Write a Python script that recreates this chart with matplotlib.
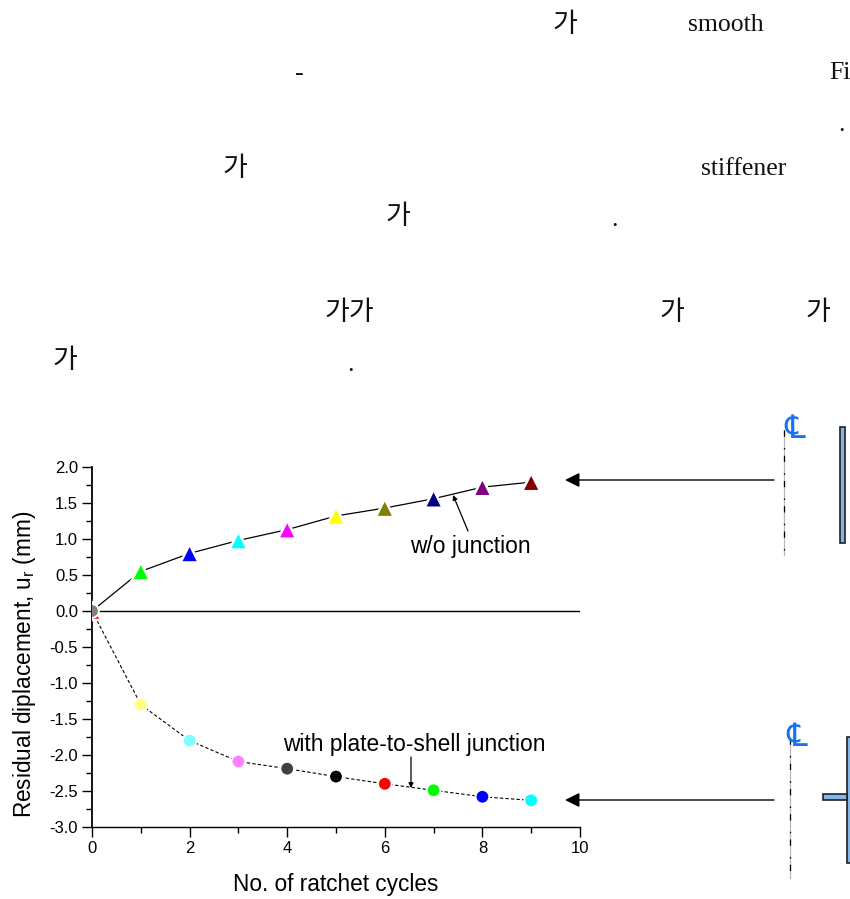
import matplotlib
matplotlib.use("Agg")
import matplotlib.pyplot as plt
from matplotlib.patches import Rectangle

plt.rcParams['font.family'] = ['Liberation Sans', 'DejaVu Sans']

W, H = 850, 899

# ---- data ----
cycles = [0, 1, 2, 3, 4, 5, 6, 7, 8, 9]
wo_junction = [0.0, 0.55, 0.80, 0.98, 1.13, 1.32, 1.43, 1.56, 1.72, 1.79]
with_junction = [0.0, -1.30, -1.80, -2.09, -2.19, -2.30, -2.40, -2.49, -2.58, -2.63]

tri_colors = ['#ff0000', '#00ff00', '#0000ff', '#00ffff', '#ff00ff',
              '#ffff00', '#808000', '#000080', '#800080', '#800000']
dot_colors = ['#808080', '#ffff80', '#80ffff', '#ff80ff', '#404040',
              '#000000', '#ff0000', '#00ff00', '#0000ff', '#00ffff']

x_ticks = [0, 2, 4, 6, 8, 10]
x_minor = [1, 3, 5, 7, 9]
y_ticks = [2.0, 1.5, 1.0, 0.5, 0.0, -0.5, -1.0, -1.5, -2.0, -2.5, -3.0]
y_minor = [1.75, 1.25, 0.75, 0.25, -0.25, -0.75, -1.25, -1.75, -2.25, -2.75]

# text fragments of the page above the chart (x, y, text)
hangul = [(565, 25, '가'), (235, 169, '가'), (398, 216, '가'), (349, 312, '가가'),
          (672, 312, '가'), (818, 312, '가'), (65, 360, '가')]
latin = [(726, 25, 'smooth'), (299, 74, '-'), (840, 73, 'Fi'), (842, 125, '.'),
         (744, 169, 'stiffener'), (615, 220, '.'), (351, 365, '.')]

fig = plt.figure(figsize=(W / 100, H / 100), dpi=100)

# ---- chart ----
ax = fig.add_axes([92 / W, 1 - 827 / H, (580 - 92) / W, (827 - 467) / H])
ax.plot(cycles, wo_junction, color='black', lw=0.9, zorder=2)
ax.plot(cycles, with_junction, color='black', lw=0.8, ls=(0, (3, 2)), zorder=2)
ax.axhline(0, color='black', lw=1.0, zorder=2)
ax.scatter(cycles, wo_junction, c=tri_colors, marker='^', s=170, edgecolors='white',
           linewidths=1.8, zorder=3)
ax.scatter(cycles, with_junction, c=dot_colors, marker='o', s=98, edgecolors='white',
           linewidths=1.4, zorder=4)

ax.set_xlim(0, 10)
ax.set_ylim(-3, 2)
ax.set_xticks(x_ticks)
ax.set_xticks(x_minor, minor=True)
ax.set_yticks(y_ticks)
ax.set_yticks(y_minor, minor=True)
ax.set_yticklabels([f'{v:.1f}' for v in y_ticks])
ax.tick_params(which='major', length=7, width=1, labelsize=12, pad=3)
ax.tick_params(which='minor', length=4, width=1)
ax.spines['top'].set_visible(False)
ax.spines['right'].set_visible(False)
ax.spines['left'].set_linewidth(1.3)
ax.spines['bottom'].set_linewidth(1.0)
ax.patch.set_alpha(0)

# ---- overlay in pixel coordinates ----
ov = fig.add_axes([0, 0, 1, 1], zorder=5)
ov.set_xlim(0, W)
ov.set_ylim(H, 0)
ov.axis('off')

for x, y, s in hangul:
    ov.text(x, y, s, family=['Noto Sans CJK KR', 'DejaVu Sans'], fontsize=19.5,
            ha='center', va='center', color='#111111')
for x, y, s in latin:
    ov.text(x, y, s, family=['Liberation Serif'], fontsize=18.5,
            ha='center', va='center', color='#111111', clip_on=True)

ov.text(336, 884, 'No. of ratchet cycles', fontsize=16.3, ha='center', va='center')
ov.text(24.5, 664, 'Residual diplacement, u$_{\\mathregular{r}}$ (mm)', fontsize=16.3,
        rotation=90, ha='center', va='center')
ov.text(470, 547, 'w/o junction', fontsize=16.4, ha='center', va='center')
ov.text(414, 744, 'with plate-to-shell junction', fontsize=16.4, ha='center', va='center')

small = dict(arrowstyle='-|>', color='black', lw=0.9, mutation_scale=7, shrinkA=0, shrinkB=0)
big = dict(arrowstyle='-|>', color='black', lw=1.0, mutation_scale=22, shrinkA=0, shrinkB=0)
ov.annotate('', xy=(453, 495), xytext=(468, 531), arrowprops=small)
ov.annotate('', xy=(411, 788), xytext=(411, 757), arrowprops=small)
ov.annotate('', xy=(565, 480), xytext=(774, 480), arrowprops=big)
ov.annotate('', xy=(565, 800), xytext=(774, 800), arrowprops=big)

# ---- section sketches ----
blue = '#84b6ea'
ov.add_patch(Rectangle((840, 427), 5.5, 116, fc=blue, ec='#202020', lw=1.2))
ov.add_patch(Rectangle((847, 737), 6, 126, fc=blue, ec='#202020', lw=1.2))
ov.add_patch(Rectangle((823, 794), 24, 6, fc=blue, ec='#202020', lw=1.2))

for x, y0, y1 in [(784, 430, 555), (790, 738, 878)]:
    ov.plot([x, x], [y0, y1], color='#b8b8b8', lw=0.9)
    ov.plot([x, x], [y0, y1], color='black', lw=0.9, ls=(0, (5, 9, 1.2, 5)))

for x, y in [(795, 430), (797, 737)]:
    ov.text(x, y, '\u2104', family=['DejaVu Sans'], style='oblique', fontsize=23,
            color='#1673f0', ha='center', va='center')

fig.savefig('out.png', dpi=100)
